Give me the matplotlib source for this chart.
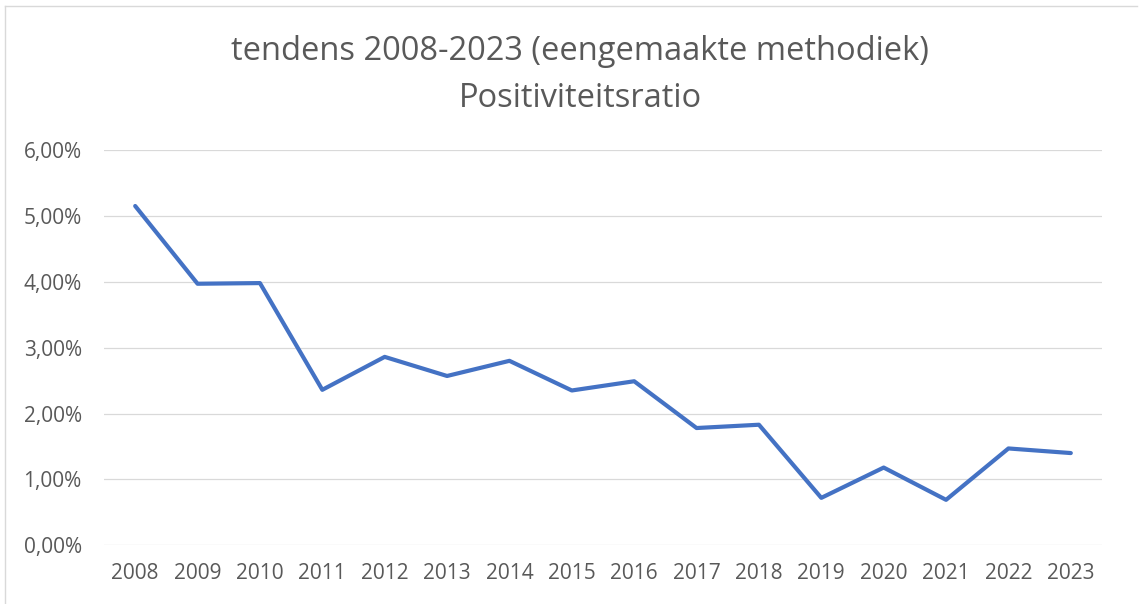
import matplotlib
matplotlib.use("Agg")
import matplotlib.pyplot as plt
from matplotlib.lines import Line2D
from matplotlib.ticker import FuncFormatter

years = ["2008", "2009", "2010", "2011", "2012", "2013", "2014", "2015",
         "2016", "2017", "2018", "2019", "2020", "2021", "2022", "2023"]
ratio = [5.15, 3.97, 3.98, 2.36, 2.86, 2.57, 2.80, 2.35,
         2.49, 1.78, 1.83, 0.72, 1.18, 0.69, 1.47, 1.40]
yticks = [0, 1, 2, 3, 4, 5, 6]
title_line1 = "tendens 2008-2023 (eengemaakte methodiek)"
title_line2 = "Positiviteitsratio"

plt.rcParams['font.family'] = ['Open Sans', 'DejaVu Sans']
TXT = "#595959"

W, H = 1147, 604
fig = plt.figure(figsize=(W / 100, H / 100), dpi=100)
fig.patch.set_facecolor("white")

ax = fig.add_axes([104 / W, 1 - 545.3 / H, (1102 - 104) / W, (545.3 - 150) / H])
x = list(range(len(years)))
ax.plot(x, ratio, color="#4472C4", lw=3.0, solid_joinstyle="round",
        solid_capstyle="round", zorder=3)

ax.set_xlim(-0.5, len(years) - 0.5)
ax.set_ylim(0, 6)
ax.set_yticks(yticks)
ax.yaxis.set_major_formatter(FuncFormatter(lambda v, p: f"{v:.2f}%".replace(".", ",")))
ax.set_xticks(x)
ax.set_xticklabels(years)
ax.grid(axis="y", color="#D9D9D9", lw=0.9, zorder=0)
for s in ax.spines.values():
    s.set_visible(False)
ax.tick_params(axis="both", length=0, colors=TXT, labelsize=15)
ax.tick_params(axis="y", pad=16)
ax.tick_params(axis="x", pad=13)

fig.text(580 / W, 1 - 51 / H, title_line1, ha="center", va="center",
         fontsize=23.5, color=TXT)
fig.text(580 / W, 1 - 98 / H, title_line2, ha="center", va="center",
         fontsize=23.5, color=TXT)

# chart border (left and top visible)
fig.add_artist(Line2D([5 / W, 5 / W], [0, 1 - 6 / H], transform=fig.transFigure,
                      color="#D9D9D9", lw=1.0))
fig.add_artist(Line2D([5 / W, 1137 / W], [1 - 6 / H, 1 - 6 / H], transform=fig.transFigure,
                      color="#D9D9D9", lw=1.0))

fig.savefig("out.png", dpi=100, facecolor="white")
